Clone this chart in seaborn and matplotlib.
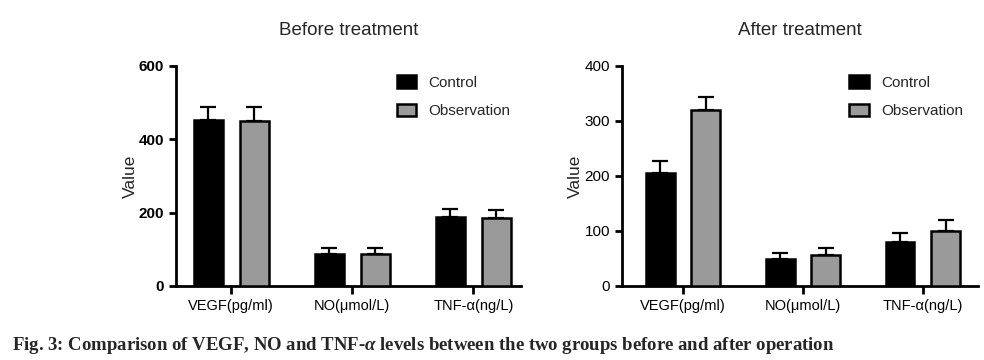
import matplotlib
matplotlib.use("Agg")
import matplotlib.pyplot as plt
import seaborn as sns
import pandas as pd
import numpy as np

categories = ["VEGF(pg/ml)", "NO(μmol/L)", "TNF-α(ng/L)"]
groups = ["Control", "Observation"]

before_control = [452, 86, 188]
before_control_sd = [36, 18, 22]
before_obs = [450, 86, 186]
before_obs_sd = [38, 18, 20]

after_control = [205, 48, 79]
after_control_sd = [22, 11, 17]
after_obs = [320, 56, 100]
after_obs_sd = [24, 12, 19]

titles = ["Before treatment", "After treatment"]
caption = "Fig. 3: Comparison of VEGF, NO and TNF-$\\mathit{\\alpha}$ levels between the two groups before and after operation"

sns.set_theme(style="ticks")
plt.rcParams['font.family'] = ['Liberation Sans', 'DejaVu Sans']
plt.rcParams['mathtext.fontset'] = 'custom'
plt.rcParams['mathtext.it'] = 'Liberation Serif:italic:bold'
plt.rcParams['mathtext.rm'] = 'Liberation Serif:bold'

fig = plt.figure(figsize=(9.84, 3.6), dpi=100)
ax1 = fig.add_axes([0.179, 0.206, 0.350, 0.611])
ax2 = fig.add_axes([0.632, 0.206, 0.362, 0.611])

palette = {"Control": "#000000", "Observation": "#9a9a9a"}

def draw(ax, ctrl, ctrl_sd, obs, obs_sd, title, ymax, step, xlim, bold_y):
    df = pd.DataFrame({
        "Category": categories * 2,
        "Group": [groups[0]] * 3 + [groups[1]] * 3,
        "Value": ctrl + obs,
    })
    sns.barplot(data=df, x="Category", y="Value", hue="Group", order=categories,
                hue_order=groups, palette=palette, edgecolor="black", linewidth=1.8,
                width=0.76, gap=0.37, errorbar=None, ax=ax, zorder=3)
    sds = [ctrl_sd, obs_sd]
    for cont, sd in zip(ax.containers, sds):
        xs = [p.get_x() + p.get_width() / 2 for p in cont]
        hs = [p.get_height() for p in cont]
        ax.errorbar(xs, hs, yerr=[np.zeros(len(sd)), sd], fmt="none", ecolor="black",
                    elinewidth=1.6, capsize=6, capthick=1.6, zorder=2)
    ax.set_ylim(0, ymax)
    ax.set_xlim(*xlim)
    ax.set_yticks(np.arange(0, ymax + 1, step))
    ax.set_xlabel("")
    ax.set_ylabel("Value", fontsize=12.5, labelpad=1)
    ax.set_title(title, fontsize=13.5, pad=22)
    sns.despine(ax=ax)
    for s in ["left", "bottom"]:
        ax.spines[s].set_linewidth(2)
        ax.spines[s].set_color("black")
    ax.tick_params(axis="y", width=2, length=5, labelsize=11, colors="black")
    ax.tick_params(axis="x", width=2, length=6, labelsize=10.5, colors="black")
    if bold_y:
        for t in ax.get_yticklabels():
            t.set_fontweight("bold")
    ax.legend(title=None, frameon=False, loc="upper left", bbox_to_anchor=(0.60, 1.02),
              fontsize=11, handlelength=1.3, handleheight=0.9, labelspacing=0.9,
              handletextpad=0.8)

draw(ax1, before_control, before_control_sd, before_obs, before_obs_sd, titles[0], 600, 200,
     (-0.455, 2.39), True)
draw(ax2, after_control, after_control_sd, after_obs, after_obs_sd, titles[1], 400, 100,
     (-0.51, 2.46), False)

fig.text(0.012, 0.04, caption, fontsize=13.5, fontweight="bold",
         family=["Liberation Serif", "DejaVu Serif"], ha="left", va="center")

fig.savefig("out.png", dpi=100)
